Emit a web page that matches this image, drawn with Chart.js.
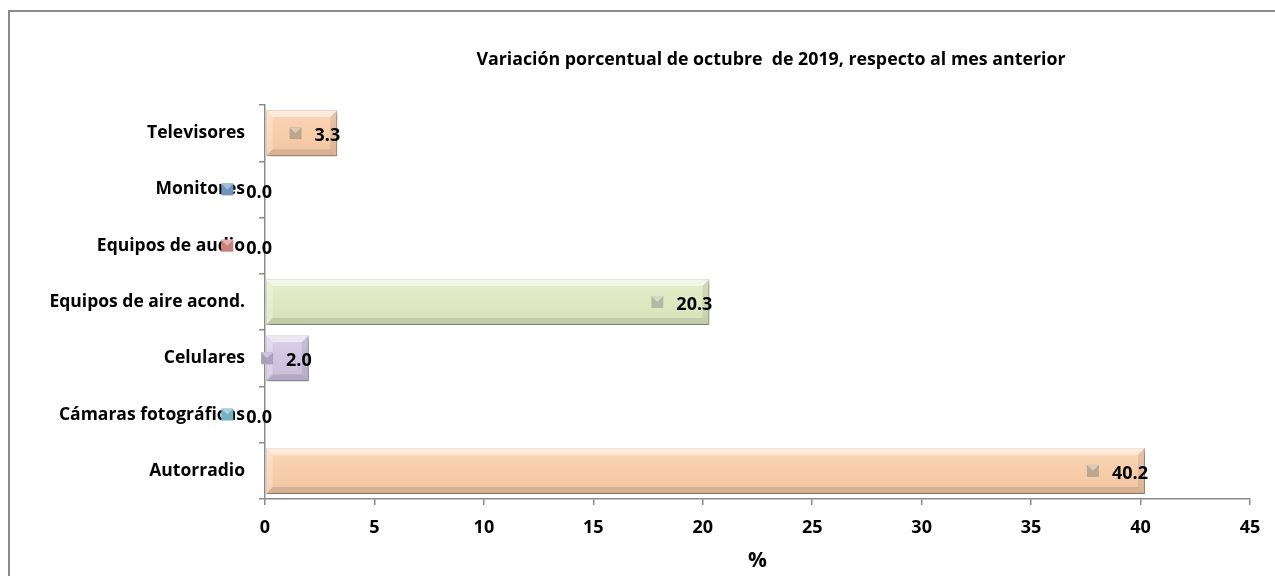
<!DOCTYPE html>
<html>
<head>
<meta charset="utf-8">
<script src="https://cdn.jsdelivr.net/npm/chart.js@4.4.1/dist/chart.umd.min.js"></script>
<style>
  html, body { margin: 0; padding: 0; background: #fff; overflow: hidden; }
  #wrap { position: relative; width: 1275px; height: 576px; }
  #frame { position: absolute; left: 8px; top: 10px; width: 1280px; height: 580px;
           border-left: 2px solid #8a8a8a; border-top: 2px solid #8a8a8a; }
  canvas { position: absolute; left: 0; top: 0; }
</style>
</head>
<body>
<div id="wrap">
  <div id="frame"></div>
  <canvas id="chart" width="1275" height="576"></canvas>
</div>
<script>
const titleText = "Variación porcentual de octubre  de 2019, respecto al mes anterior";
const categories = ["Televisores", "Monitores", "Equipos de audio", "Equipos de aire acond.",
                    "Celulares", "Cámaras fotográficas", "Autorradio"];
const values = [3.3, 0.0, 0.0, 20.3, 2.0, 0.0, 40.2];
const barColors = ["#f8cdaa", "#8fb0dc", "#e4a09e", "#dfe9c1", "#d1c5e2", "#93cfe0", "#f8cdaa"];
const markerColors = ["#cdb49c", "#7c9fd0", "#d98e8c", "#c3c9b0", "#bbaed0", "#7fc0d4", "#cdb49c"];

const FONT = "'Open Sans', sans-serif";
const BAR_PCT = 0.82;

function shade(hex, amt) {
  const n = parseInt(hex.slice(1), 16);
  let r = (n >> 16) & 255, g = (n >> 8) & 255, b = n & 255;
  const f = (c) => Math.max(0, Math.min(255, Math.round(amt > 0 ? c + (255 - c) * amt : c * (1 + amt))));
  return `rgb(${f(r)},${f(g)},${f(b)})`;
}

// vertical gradient per bar, built from the scale positions
function barFill(ctx) {
  const chart = ctx.chart;
  const base = barColors[ctx.dataIndex];
  const y = chart.scales.y;
  if (!chart.chartArea || !y) return base;
  const yc = y.getPixelForValue(ctx.dataIndex);
  const band = (y.bottom - y.top) / categories.length;
  const h = band * BAR_PCT;
  if (!isFinite(yc)) return base;
  const g = chart.ctx.createLinearGradient(0, yc - h / 2, 0, yc + h / 2);
  g.addColorStop(0, shade(base, 0.2));
  g.addColorStop(0.5, base);
  g.addColorStop(1, shade(base, -0.04));
  return g;
}

const shadowPlugin = {
  id: "shadow",
  beforeDatasetsDraw(chart) {
    const c = chart.ctx;
    c.save();
    c.shadowColor = "rgba(0,0,0,0.35)";
    c.shadowBlur = 4;
    c.shadowOffsetX = 2;
    c.shadowOffsetY = 3;
  },
  afterDatasetsDraw(chart) {
    chart.ctx.restore();
  }
};

// bevel look + data labels with legend-key marker
const bevelLabels = {
  id: "bevelLabels",
  afterDatasetsDraw(chart) {
    const c = chart.ctx;
    const meta = chart.getDatasetMeta(0);
    meta.data.forEach((bar, i) => {
      const L = Math.min(bar.base, bar.x), R = Math.max(bar.base, bar.x);
      const T = bar.y - bar.height / 2, B = bar.y + bar.height / 2;
      const w = R - L;
      if (w > 2) {
        const b = Math.min(7, w / 2);
        const poly = (pts, col) => {
          c.beginPath();
          c.moveTo(pts[0][0], pts[0][1]);
          for (let k = 1; k < pts.length; k++) c.lineTo(pts[k][0], pts[k][1]);
          c.closePath();
          c.fillStyle = col;
          c.fill();
        };
        poly([[L, T], [R, T], [R - b, T + b], [L + b, T + b]], "rgba(255,255,255,0.5)");
        poly([[L, B], [R, B], [R - b, B - b], [L + b, B - b]], "rgba(0,0,0,0.10)");
        poly([[L, T], [L + b, T + b], [L + b, B - b], [L, B]], "rgba(255,255,255,0.25)");
        poly([[R, T], [R - b, T + b], [R - b, B - b], [R, B]], "rgba(0,0,0,0.08)");
      }
      const txt = values[i].toFixed(1);
      c.save();
      c.font = `bold 18px ${FONT}`;
      c.textBaseline = "middle";
      c.textAlign = "right";
      const right = Math.max(R + 3, L + 7);
      const tw = c.measureText(txt).width;
      const mx = right - tw - 19;
      const my = bar.y;
      const mc = markerColors[i];
      c.fillStyle = shade(mc, -0.08);
      c.fillRect(mx - 6, my - 6, 12, 12);
      c.fillStyle = shade(mc, 0.3);
      c.beginPath();
      c.moveTo(mx - 6, my - 6); c.lineTo(mx + 6, my - 6); c.lineTo(mx, my);
      c.closePath(); c.fill();
      c.fillStyle = "#000";
      c.fillText(txt, right, my + 3);
      c.restore();
    });
  }
};

const titlePlugin = {
  id: "topTitle",
  afterDraw(chart) {
    const c = chart.ctx;
    c.save();
    c.font = `bold 17.8px ${FONT}`;
    c.fillStyle = "#000";
    c.textAlign = "center";
    c.textBaseline = "middle";
    c.fillText(titleText, 771, 60);
    c.restore();
  }
};

new Chart(document.getElementById("chart"), {
  type: "bar",
  data: {
    labels: categories,
    datasets: [{
      data: values,
      backgroundColor: barFill,
      borderColor: barColors.map(col => shade(col, -0.12)),
      borderWidth: 1,
      borderSkipped: false,
      categoryPercentage: 1,
      barPercentage: BAR_PCT
    }]
  },
  options: {
    indexAxis: "y",
    responsive: false,
    devicePixelRatio: 1,
    animation: false,
    layout: { padding: { top: 105, right: 25, left: 0, bottom: 0 } },
    plugins: {
      legend: { display: false },
      tooltip: { enabled: false }
    },
    scales: {
      x: {
        min: 0,
        max: 45,
        ticks: { stepSize: 5, color: "#000", padding: 12, font: { family: FONT, size: 18, weight: "bold" } },
        grid: { drawOnChartArea: false, drawTicks: true, tickLength: 6, color: "#8a8a8a", lineWidth: 1.5 },
        border: { color: "#8a8a8a", width: 1.5 },
        title: { display: true, text: "%", color: "#000", padding: { top: 0, bottom: 2 },
                 font: { family: FONT, size: 21, weight: "bold" } },
        afterFit(s) { s.height = 77; }
      },
      y: {
        ticks: { color: "#000", padding: 14, font: { family: FONT, size: 17.5, weight: "bold" } },
        grid: { drawOnChartArea: false, drawTicks: true, tickLength: 6, offset: true, color: "#8a8a8a", lineWidth: 1.5 },
        border: { color: "#8a8a8a", width: 1.5 },
        afterFit(s) { s.width = 265; }
      }
    }
  },
  plugins: [shadowPlugin, bevelLabels, titlePlugin]
});
</script>
</body>
</html>
